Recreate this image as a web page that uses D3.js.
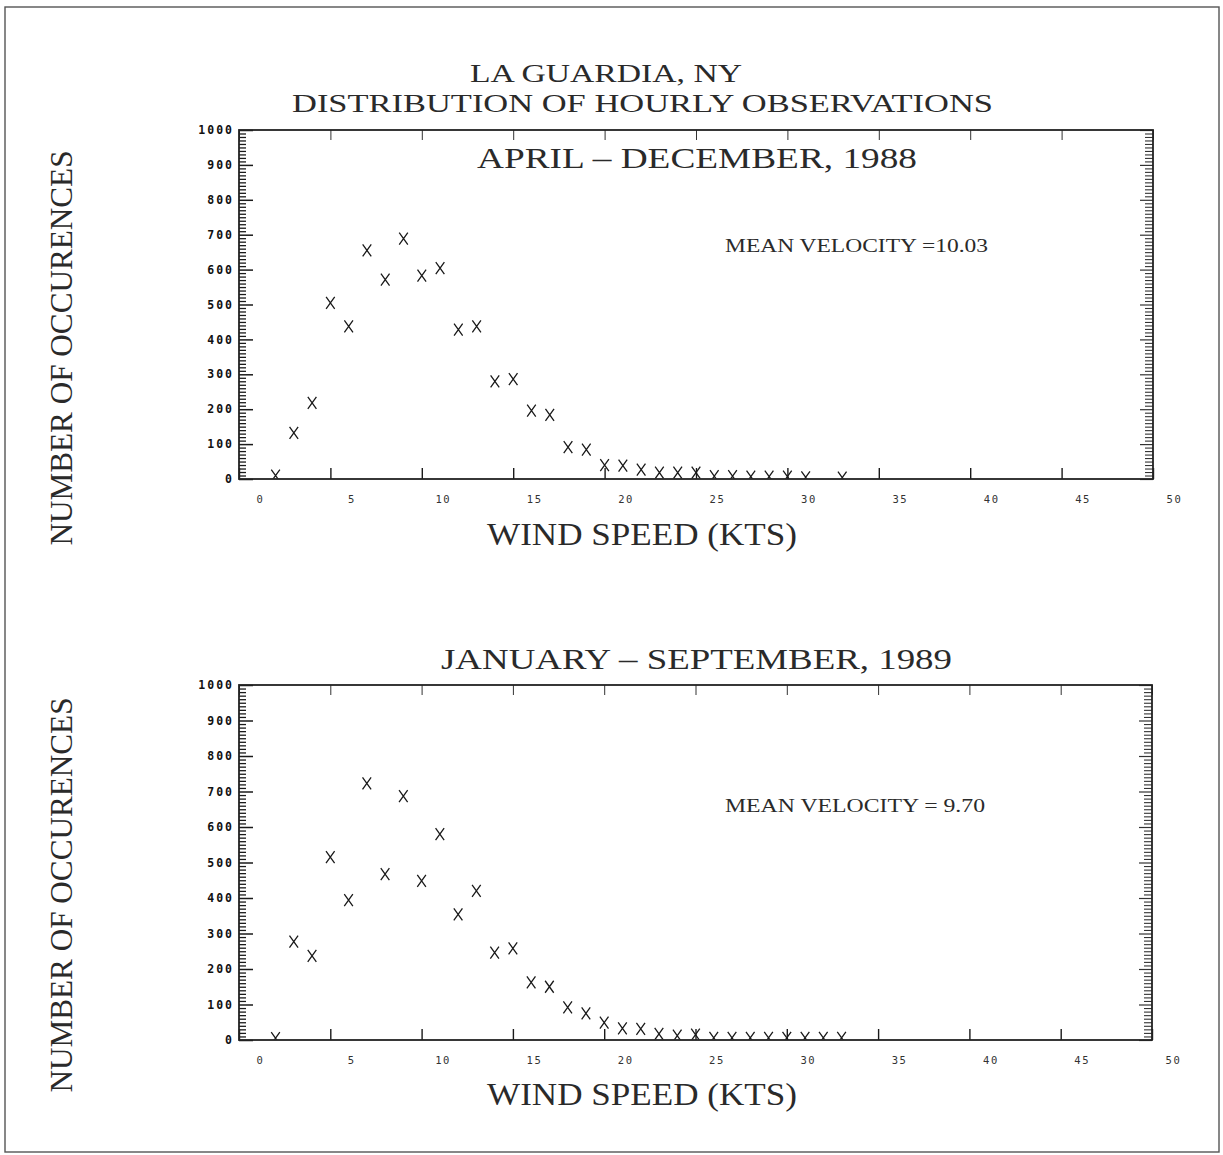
<!DOCTYPE html>
<html>
<head>
<meta charset="utf-8">
<script src="https://cdn.jsdelivr.net/npm/d3@7"></script>
<style>
  html, body { margin: 0; padding: 0; background: #fff; }
  svg { display: block; }
</style>
</head>
<body>
<svg id="chart" width="1223" height="1155"></svg>
<script>
// ---------------- DATA ----------------
const titleLines = ["LA GUARDIA, NY", "DISTRIBUTION OF HOURLY OBSERVATIONS"];
const periodLabels = ["APRIL \u2013 DECEMBER, 1988", "JANUARY \u2013 SEPTEMBER, 1989"];
const meanLabels = ["MEAN VELOCITY =10.03", "MEAN VELOCITY = 9.70"];
const xAxisTitle = "WIND SPEED (KTS)";
const yAxisTitle = "NUMBER OF OCCURENCES";

const xTickValues = [0, 5, 10, 15, 20, 25, 30, 35, 40, 45, 50];
const yTickValues = [0, 100, 200, 300, 400, 500, 600, 700, 800, 900, 1000];

const speeds1988 = [2,3,4,5,6,7,8,9,10,11,12,13,14,15,16,17,18,19,20,21,22,23,24,25,26,27,28,29,30,31,33];
const counts1988 = [10,132,218,505,437,655,571,689,583,604,428,437,280,286,196,184,91,84,40,38,27,18,18,18,8,8,7,7,7,5,4];

const speeds1989 = [2,3,4,5,6,7,8,9,10,11,12,13,14,15,16,17,18,19,20,21,22,23,24,25,26,27,28,29,30,31,32,33];
const counts1989 = [5,277,237,515,394,723,467,687,448,580,354,420,246,258,162,150,92,75,49,33,31,17,12,15,6,6,6,6,6,6,6,6];

// ---------------- LAYOUT ----------------
const svg = d3.select("#chart");
const serif = "'Liberation Serif', 'DejaVu Serif', serif";
const ink = "#1a1a1a";
const textInk = "#2a2a2a";

// page border
svg.append("rect")
  .attr("x", 5).attr("y", 7).attr("width", 1214).attr("height", 1145)
  .attr("fill", "none").attr("stroke", "#555").attr("stroke-width", 1.4);

function label(x, y, str, size, len, opts = {}) {
  const t = svg.append("text")
    .attr("x", x).attr("y", y)
    .attr("font-family", serif)
    .attr("font-size", size)
    .attr("fill", textInk)
    .attr("textLength", len)
    .attr("lengthAdjust", "spacingAndGlyphs")
    .text(str);
  if (opts.transform) t.attr("transform", opts.transform).attr("x", 0).attr("y", 0).attr("text-anchor", "middle");
  return t;
}

// main titles
label(470, 82, titleLines[0], 26, 272);
label(292, 112, titleLines[1], 26, 701);

const panels = [
  { speeds: speeds1988, counts: counts1988, top: 130, bottom: 479, left: 239, right: 1153,
    period: periodLabels[0], periodX: 477, periodY: 168, periodLen: 440,
    mean: meanLabels[0], meanY: 252, meanLen: 263,
    xTitleY: 545, yTitleCY: 348 },
  { speeds: speeds1989, counts: counts1989, top: 685, bottom: 1040, left: 239, right: 1152,
    period: periodLabels[1], periodX: 441, periodY: 669, periodLen: 511,
    mean: meanLabels[1], meanY: 812, meanLen: 260,
    xTitleY: 1105, yTitleCY: 895 }
];

panels.forEach((p, i) => {
  const x = d3.scaleLinear().domain([0, 50]).range([p.left, p.right]);
  const y = d3.scaleLinear().domain([0, 1000]).range([p.bottom, p.top]);
  const g = svg.append("g");

  const minorY = d3.range(0, 1001, 10).filter(v => v % 100 !== 0);

  // left axis: minor ticks
  g.append("g").attr("transform", `translate(${p.left},0)`)
    .call(d3.axisLeft(y).tickValues(minorY).tickSize(-7).tickFormat(""))
    .call(s => s.select(".domain").remove())
    .call(s => s.selectAll("line").attr("stroke", ink).attr("stroke-width", 1.3));
  // left axis: major ticks + labels
  g.append("g").attr("transform", `translate(${p.left},0)`)
    .call(d3.axisLeft(y).tickValues(yTickValues).tickSize(-14).tickPadding(5).tickFormat(d3.format("d")))
    .call(s => s.select(".domain").remove())
    .call(s => s.selectAll("line").attr("stroke", ink).attr("stroke-width", 1.5))
    .call(s => s.selectAll("text")
      .attr("font-family", "'DejaVu Sans Mono', monospace")
      .attr("font-weight", "bold")
      .attr("font-size", 11.5)
      .attr("letter-spacing", 2)
      .attr("fill", "#111"));

  // right axis
  g.append("g").attr("transform", `translate(${p.right},0)`)
    .call(d3.axisRight(y).tickValues(minorY).tickSize(-8).tickFormat(""))
    .call(s => s.select(".domain").remove())
    .call(s => s.selectAll("line").attr("stroke", "#333").attr("stroke-width", 1.1));
  g.append("g").attr("transform", `translate(${p.right},0)`)
    .call(d3.axisRight(y).tickValues(yTickValues).tickSize(-13).tickFormat(""))
    .call(s => s.select(".domain").remove())
    .call(s => s.selectAll("line").attr("stroke", "#333").attr("stroke-width", 1.2));

  // top axis
  g.append("g").attr("transform", `translate(0,${p.top})`)
    .call(d3.axisTop(x).tickValues(xTickValues).tickSize(-10).tickFormat(""))
    .call(s => s.select(".domain").remove())
    .call(s => s.selectAll("line").attr("stroke", "#333").attr("stroke-width", 1));

  // bottom axis
  g.append("g").attr("transform", `translate(0,${p.bottom})`)
    .call(d3.axisBottom(x).tickValues(xTickValues).tickSize(-11).tickPadding(17).tickFormat(d3.format("d")))
    .call(s => s.select(".domain").remove())
    .call(s => s.selectAll("line").attr("stroke", ink).attr("stroke-width", 1.4))
    .call(s => s.selectAll("text")
      .attr("dx", 21)
      .attr("font-family", "'DejaVu Sans Mono', monospace")
      .attr("font-size", 10.5)
      .attr("letter-spacing", 1.6)
      .attr("fill", "#333"));

  // frame
  g.append("rect")
    .attr("x", p.left).attr("y", p.top)
    .attr("width", p.right - p.left).attr("height", p.bottom - p.top)
    .attr("fill", "none").attr("stroke", "#222").attr("stroke-width", 1.8);

  // clip for markers
  const clipId = "clip" + i;
  svg.append("clipPath").attr("id", clipId)
    .append("rect")
    .attr("x", p.left).attr("y", p.top)
    .attr("width", p.right - p.left).attr("height", p.bottom - p.top - 0.5);

  const pts = p.speeds.map((s, k) => ({ s, c: p.counts[k] }));
  g.append("g").attr("clip-path", `url(#${clipId})`)
    .selectAll("path.mark").data(pts).join("path")
    .attr("class", "mark")
    .attr("transform", d => `translate(${x(d.s)},${y(d.c)})`)
    .attr("d", "M-4.3,-6L4.3,6M-4.3,6L4.3,-6")
    .attr("fill", "none")
    .attr("stroke", ink)
    .attr("stroke-width", 1.3);

  // texts
  label(p.periodX, p.periodY, p.period, 30, p.periodLen);
  label(725, p.meanY, p.mean, 19, p.meanLen);
  label(487, p.xTitleY, xAxisTitle, 31, 310);
  label(0, 0, yAxisTitle, 31, 395, { transform: `translate(72,${p.yTitleCY}) rotate(-90)` });
});
</script>
</body>
</html>
